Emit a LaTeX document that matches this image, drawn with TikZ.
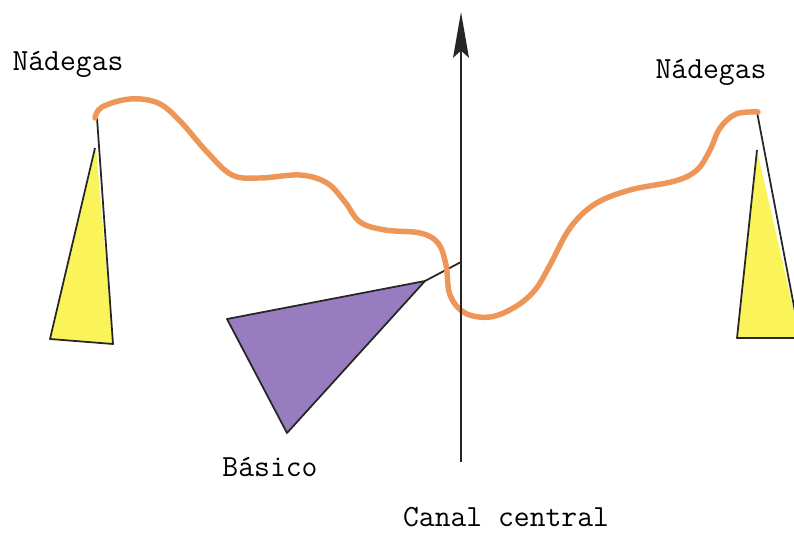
\documentclass[tikz,border=0pt]{standalone}
\usepackage{fontspec}
\usetikzlibrary{arrows.meta}
\definecolor{cordao}{RGB}{238,150,88}
\definecolor{pe}{RGB}{250,244,90}
\definecolor{basico}{RGB}{152,124,192}
\tikzset{
  rotulo/.style={font=\fontsize{17.5}{20}\selectfont\ttfamily},
  pedal/.style={draw=black!85,line width=1pt,line join=round}
}
\begin{document}
\begin{tikzpicture}[x=0.02cm,y=-0.02cm]
    \useasboundingbox (0,0) rectangle (794,533);
    \begin{scope}
    \clip (0,0) rectangle (794,533);
    % pes (amarelos)
    \fill[pe] (96,148) -- (50,339) -- (113,344) -- cycle;
    \draw[pedal] (97,118) -- (113,344) -- (50,339) -- (95,148);
    \fill[pe] (757,150) -- (737,338) -- (800,338) -- cycle;
    \draw[pedal] (757,112) -- (800,338) -- (737,338) -- (757,150);
    % basico (roxo)
    \filldraw[pedal,fill=basico] (227,319) -- (287,433) -- (425,281) -- cycle;
    \coordinate (bas) at (425,281);
    \coordinate (eixo) at (461,262);
    \draw[pedal] (bas) -- (eixo);
    % cordao
    \draw[cordao,line width=3.1pt,line cap=round,line join=round]
      plot[smooth,tension=0.6] coordinates {
        (95,118) (102,107) (130,99) (158,103) (180,121) (207,152)
        (232,175) (260,178) (300,175) (327,183) (345,202) (360,222)
        (385,230) (420,233) (438,243) (446,265) (450,295) (465,313)
        (490,317) (515,307) (535,290) (550,265) (570,228) (595,204)
        (630,190) (675,181) (697,170) (710,150) (720,128) (736,114) (758,112)};
    \end{scope}
    % canal central
    \coordinate (base) at (461,462);
    \coordinate (topo) at (461,12);
    \draw[black!85,line width=1pt,-{Stealth[length=26pt,width=9pt,inset=4pt]}] (base) -- (topo);
    % rotulos
    \node[rotulo] (nadE) at (68,64) {Nádegas};
    \node[rotulo] (nadD) at (711,72) {Nádegas};
    \node[rotulo] (basT) at (270,467) {Básico};
    \node[rotulo] (canal) at (506,517) {Canal central};
\end{tikzpicture}
\end{document}
